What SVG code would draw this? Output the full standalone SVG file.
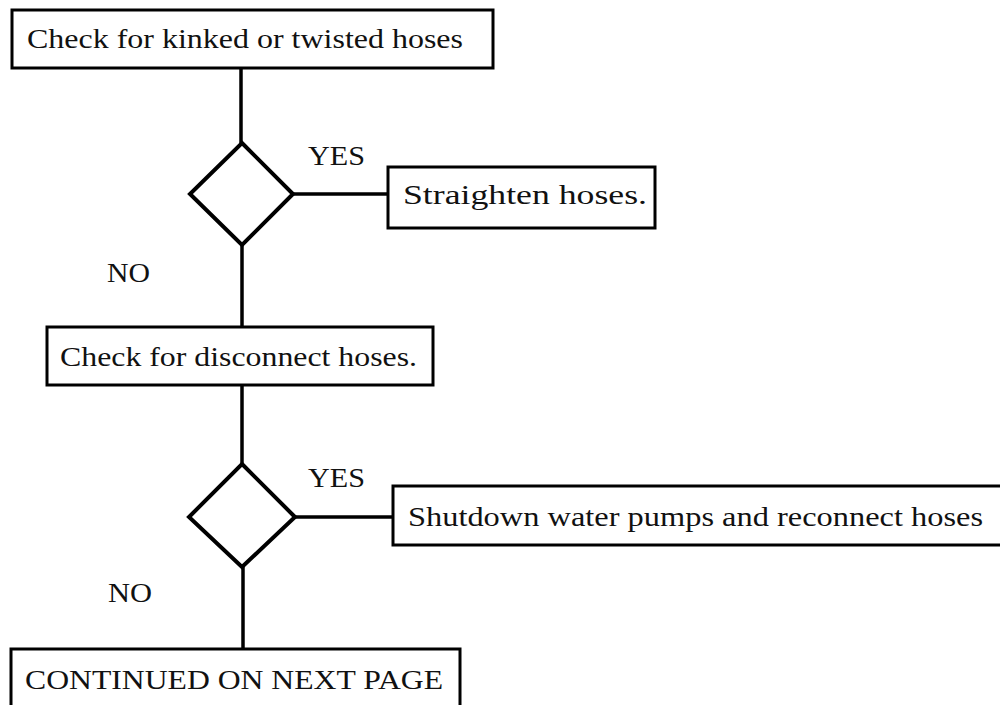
<svg xmlns="http://www.w3.org/2000/svg" width="1000" height="705" viewBox="0 0 1000 705">
<style>
.box{fill:#fff;stroke:#000;stroke-width:3}
.dia{fill:#fff;stroke:#000;stroke-width:4;stroke-linejoin:miter}
.ln{stroke:#000;stroke-width:3.5;fill:none}
text{font-family:"Liberation Serif","Times New Roman",serif;font-size:28px;fill:#111}
</style>
<rect width="1000" height="705" fill="#fff"/>
<g id="connectors">
<line class="ln" x1="241" y1="68" x2="241" y2="143"/>
<line class="ln" x1="293" y1="194" x2="388" y2="194"/>
<line class="ln" x1="242" y1="245" x2="242" y2="327"/>
<line class="ln" x1="242" y1="385" x2="242" y2="464"/>
<line class="ln" x1="295" y1="517" x2="393" y2="517"/>
<line class="ln" x1="243" y1="567" x2="243" y2="649"/>
<text x="308" y="165" textLength="57" lengthAdjust="spacingAndGlyphs">YES</text>
<text x="107" y="282" textLength="43" lengthAdjust="spacingAndGlyphs">NO</text>
<text x="308" y="487" textLength="57" lengthAdjust="spacingAndGlyphs">YES</text>
<text x="108" y="602" textLength="44" lengthAdjust="spacingAndGlyphs">NO</text>
</g>
<g id="n1">
<rect class="box" x="12" y="10" width="481" height="58"/>
<text x="27" y="48" textLength="436" lengthAdjust="spacingAndGlyphs">Check for kinked or twisted hoses</text>
</g>
<g id="d1">
<polygon class="dia" points="242,143 293,194 242,245 190,194"/>
</g>
<g id="n2">
<rect class="box" x="388" y="167" width="267" height="61"/>
<text x="403" y="204" textLength="244" lengthAdjust="spacingAndGlyphs">Straighten hoses.</text>
</g>
<g id="n3">
<rect class="box" x="47" y="327" width="386" height="58"/>
<text x="60" y="366" textLength="357" lengthAdjust="spacingAndGlyphs">Check for disconnect hoses.</text>
</g>
<g id="d2">
<polygon class="dia" points="242,464 295,517 242,567 189,517"/>
</g>
<g id="n4">
<rect class="box" x="393" y="486" width="620" height="59"/>
<text x="408" y="526" textLength="575" lengthAdjust="spacingAndGlyphs">Shutdown water pumps and reconnect hoses</text>
</g>
<g id="n5">
<rect class="box" x="11" y="649" width="449" height="70"/>
<text x="25" y="689" textLength="418" lengthAdjust="spacingAndGlyphs">CONTINUED ON NEXT PAGE</text>
</g>
</svg>
